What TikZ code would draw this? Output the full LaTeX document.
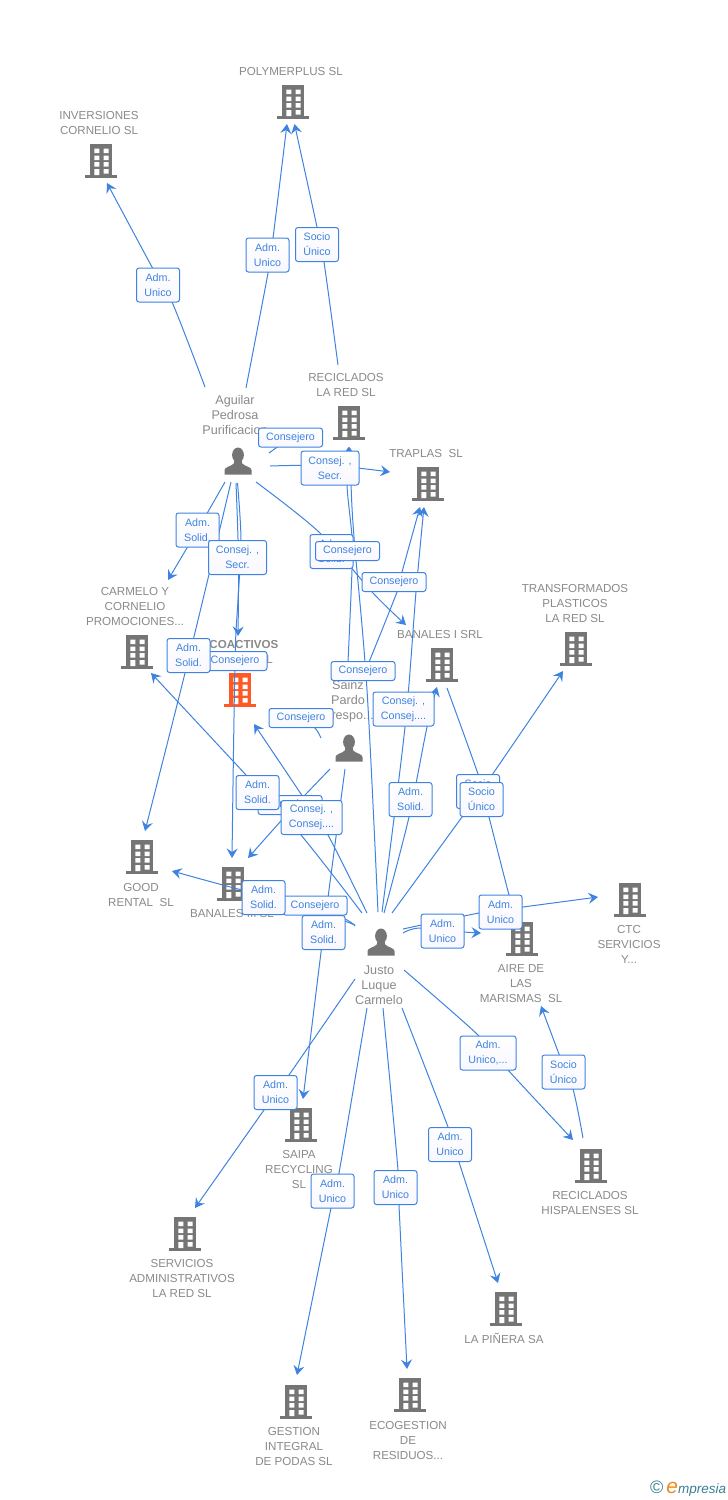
\documentclass[tikz,border=0pt]{standalone}
\usepackage{fontspec}
\setmainfont{Liberation Sans}
\usetikzlibrary{arrows.meta}
\definecolor{linkblue}{HTML}{3F83E0}
\definecolor{txtgray}{HTML}{8A8A8A}
\definecolor{icongray}{HTML}{757575}
\definecolor{iconred}{HTML}{FF5A26}
\definecolor{logoteal}{HTML}{3B7D96}
\definecolor{logoorange}{HTML}{F08A1D}
\pgfdeclarelayer{edges}
\pgfdeclarelayer{labels}
\pgfsetlayers{main,edges,labels}
\tikzset{
  x=1pt,y=-1pt,
  conn/.style={draw=linkblue,line width=1pt,line join=round},
  tip/.style={-{Stealth[length=9.5pt,width=11pt,inset=3.5pt]}},
  lbl/.style={draw=linkblue,line width=1pt,rounded corners=2.5pt,top color=white,bottom color=blue!3,
    text=linkblue,inner sep=0pt,align=center,minimum width=43pt,minimum height=34pt,
    font=\fontsize{10.7}{15}\selectfont},
  lblone/.style={lbl,minimum width=64pt,minimum height=19pt},
  iconbox/.style={inner sep=0pt,minimum width=32pt,minimum height=34pt},
  btext/.style={text=txtgray,align=center,inner sep=0pt,yshift=-0.8pt,font=\fontsize{11.6}{15}\selectfont},
  ptext/.style={text=txtgray,align=center,inner sep=0pt,yshift=-0.8pt,font=\fontsize{12.6}{15}\selectfont},
  pics/bld/.style={code={
    \fill[#1] (-11,-17) rectangle (11,14);
    \fill[#1] (-16,14) rectangle (16,17);
    \fill[white] (-6.7,-12.5) rectangle (-1.7,-8) (2.7,-12.5) rectangle (7.7,-8)
      (-6.7,-5.5) rectangle (-1.7,-1) (2.7,-5.5) rectangle (7.7,-1)
      (-6.7,1) rectangle (-1.7,5.5) (2.7,1) rectangle (7.7,5.5)
      (-6.7,8) rectangle (-1.7,14) (2.7,8) rectangle (7.7,12.5);
  }},
  pics/person/.style={code={
    \fill[icongray] (0,-6) ellipse (5.9 and 7.5);
    \fill[icongray] (-13.5,13.5) -- (-13.5,9) .. controls (-13.5,6) and (-7,5.5) .. (-4.2,2.5)
      -- (-3.5,-1) -- (3.5,-1) -- (4.2,2.5) .. controls (7,5.5) and (13.5,6) .. (13.5,9) -- (13.5,13.5) -- cycle;
  }},
}
\newcommand{\bld}[4][icongray]{\node[iconbox] (#2) at (#3,#4) {}; \pic at (#2.center) {bld=#1};}
\newcommand{\per}[3]{\node[iconbox] (#1) at (#2,#3) {}; \pic at (#1.center) {person};}
\newcommand{\lnk}[2][]{\draw[conn,#1] plot[smooth,tension=0.55] coordinates {#2};}
\begin{document}
\begin{tikzpicture}
\useasboundingbox (0,0) rectangle (728,1500);
\fill[white] (0,0) rectangle (728,1500);

% company nodes
\bld{poly}{293}{102}
\node[btext] (polyT) at (291,71) {POLYMERPLUS SL};
\bld{inv}{101}{161}
\node[btext] (invT) at (99,122.5) {INVERSIONES\\CORNELIO SL};
\bld{recred}{349}{423}
\node[btext] (recredT) at (346,384.5) {RECICLADOS\\LA RED SL};
\bld{traplas}{428}{484}
\node[btext] (traplasT) at (426,453) {TRAPLAS\ \ SL};
\bld{transf}{576}{649}
\node[btext] (transfT) at (575,603) {TRANSFORMADOS\\PLASTICOS\\LA RED SL};
\bld{carmelo}{137}{652}
\node[btext] (carmeloT) at (135,606) {CARMELO Y\\CORNELIO\\PROMOCIONES...};
\bld[iconred]{eco}{240}{690}
\node[btext,font=\fontsize{11.6}{15}\selectfont\bfseries] (ecoT) at (240,644) {ECOACTIVOS};
\node[btext,anchor=east] (ecoU) at (273,659) {SL};
\bld{ban1}{442}{665}
\node[btext] (ban1T) at (440,634) {BANALES I SRL};
\bld{good}{142}{857}
\node[btext] (goodT) at (141,894.5) {GOOD\\RENTAL\ \ SL};
\bld{ban3}{233}{884}
\node[btext] (ban3T) at (232,913) {BANALES III SL};
\bld{aire}{522}{939}
\node[btext] (aireT) at (521,983) {AIRE DE\\LAS\\MARISMAS\ \ SL};
\bld{ctc}{630}{900}
\node[btext] (ctcT) at (629,944) {CTC\\SERVICIOS\\Y...};
\bld{saipa}{301}{1125}
\node[btext] (saipaT) at (299,1169) {SAIPA\\RECYCLING\\SL};
\bld{serv}{185}{1234}
\node[btext] (servT) at (182,1278) {SERVICIOS\\ADMINISTRATIVOS\\LA RED SL};
\bld{rechis}{591}{1166}
\node[btext] (rechisT) at (590,1202.5) {RECICLADOS\\HISPALENSES SL};
\bld{pinera}{506}{1309}
\node[btext] (pineraT) at (504,1338) {LA PIÑERA SA};
\bld{gestion}{296}{1402}
\node[btext] (gestionT) at (294,1446) {GESTION\\INTEGRAL\\DE PODAS SL};
\bld{ecog}{410}{1395}
\node[btext] (ecogT) at (408,1440) {ECOGESTION\\DE\\RESIDUOS...};

% people
\per{agui}{238}{461}
\node[ptext] (aguiT) at (235,414) {Aguilar\\Pedrosa\\Purificacion};
\per{sainz}{349}{748}
\node[ptext] (sainzT) at (348,700) {Sainz\\Pardo\\Crespo...};
\per{justo}{381}{942}
\node[ptext] (justoT) at (379,984) {Justo\\Luque\\Carmelo};

% relation labels
\begin{pgfonlayer}{labels}
\node[lbl] (l01) at (158,285) {Adm.\\Unico};
\node[lbl] (l02) at (267.5,255) {Adm.\\Unico};
\node[lbl] (l03) at (317,244.5) {Socio\\Único};
\node[lblone] (l04) at (290.5,437.5) {Consejero};
\node[lbl,minimum width=58pt] (l05) at (330,468) {Consej. ,\\Secr.};
\node[lbl] (l06) at (197.5,530) {Adm.\\Solid.};
\node[lbl] (l08) at (331.5,551.5) {Adm.\\Solid.};
\node[lblone] (l09) at (347.5,551) {Consejero};
\node[lbl,minimum width=58pt] (l07) at (237.5,557.5) {Consej. ,\\Secr.};
\node[lblone] (l10) at (394,582) {Consejero};
\node[lblone] (l12) at (235,661) {Consejero};
\node[lbl] (l11) at (188.5,655.5) {Adm.\\Solid.};
\node[lblone] (l13) at (363,671) {Consejero};
\node[lbl,minimum width=61pt] (l14) at (403.5,709) {Consej. ,\\Consej....};
\node[lblone] (l15) at (301,718) {Consejero};
\node[lblone] (l17) at (290,805) {Consejero};
\node[lbl] (l16) at (257.5,792.5) {Adm.\\Solid.};
\node[lbl,minimum width=61pt] (l18) at (311.5,817.5) {Consej. ,\\Consej....};
\node[lbl] (l19) at (410.5,799.5) {Adm.\\Solid.};
\node[lbl] (l20) at (478,791.5) {Socio\\Único};
\node[lbl] (l21) at (481.5,799.5) {Socio\\Único};
\node[lblone] (l23) at (315,905.5) {Consejero};
\node[lbl] (l22) at (263.5,897.5) {Adm.\\Solid.};
\node[lbl] (l24) at (323.5,932.5) {Adm.\\Solid.};
\node[lbl] (l25) at (442.5,931) {Adm.\\Unico};
\node[lbl] (l26) at (500.5,912) {Adm.\\Unico};
\node[lbl,minimum width=56pt] (l27) at (488,1053) {Adm.\\Unico,...};
\node[lbl] (l28) at (563.5,1072) {Socio\\Único};
\node[lbl] (l29) at (275.5,1092.5) {Adm.\\Unico};
\node[lbl] (l30) at (332.5,1191) {Adm.\\Unico};
\node[lbl] (l31) at (395.5,1187.5) {Adm.\\Unico};
\node[lbl] (l32) at (450,1144.5) {Adm.\\Unico};
\end{pgfonlayer}

% free ends and bends of the connectors
\foreach \n/\x/\y in {
 a1/205/387, v1a/172/302, v1b/152/267, b1/107/183,
 a2/246/388, v2a/268/273, v2b/273/238, b2/287/124,
 a3/338/365, v3a/324/262, v3b/317/227, b3/294.5/124,
 a4/269/453, a5/270/466, v5/330/465.5, b5/390/472, a6/225/482, b6/168/580,
 a7/231/482, v7/189.5/655, b7/145/831, a8/236/483, v8/238.5/560, b8/238/636,
 a9/237.5/483, v9a/241/540, v9b/238/600, b9/232/858,
 a10/256/482, v10a/320/533, v10b/373/593, b10/406/625,
 a11/348/662, v11a/352/570, v11b/352/537, v11c/347/485, b11/348.5/447,
 a12/378/912, v12a/367/690, v12b/354/537, v12c/351/485, b12/349.5/447,
 a13/365/672, v13a/397/592, v13b/402/572, b13/420/507,
 a14/382/912, v14a/405/727, v14b/416/592, b14/424/507,
 a15/384/913, v15a/409/817, v15b/427/727, b15/437/687,
 a16/345/769, b16/303/1099, a17/330/769, v17/290/811, b17/248/858,
 a18/321/738, v18/315/728, a19/367/913, v19a/328/835, v19b/305/800, b19/254/724,
 a20/362/913, v20a/301/835, v20b/246/775, b20/151/673,
 a21/355/925, v21a/286/899, v21b/242/890, b21/172/871,
 a22/355/926, v22/347/920, a23/392/913, v23a/462/817, v23b/492/775, b23/563/671,
 a24/447/688, v24a/480/780, v24b/489/817, v24c/509/895, b24/514/912,
 a25/403/929, v25a/479/913, v25b/523/907, b25/598/897,
 a26/403/933, v26a/420/928, v26b/464/932, b26/481/933,
 a27/404/970, v27a/478/1035, v27b/508/1070, b27/573/1140,
 a28/583/1138, v28a/573/1089, v28b/559/1054, b28/541/1006,
 a29/355/979, v29a/289/1075, v29b/264/1110, b29/195/1208,
 a30/367/1008, v30a/339/1173, v30b/331/1208, b30/297/1375,
 a31/383/1008, v31a/398/1170, v31b/399/1205, b31/407/1369,
 a32/402/1008, v32a/448/1127, v32b/459/1162, b32/498/1283}
 {\coordinate (\n) at (\x,\y);}

% connectors
\begin{pgfonlayer}{edges}
\lnk[tip]{(a1) (v1a) (v1b) (b1)}
\lnk[tip]{(a2) (v2a) (v2b) (b2)}
\lnk[tip]{(a3) (v3a) (v3b) (b3)}
\lnk{(a4) (l04.center)}
\lnk[tip]{(a5) (v5) (b5)}
\lnk[tip]{(a6) (l06.center) (b6)}
\lnk[tip]{(a7) (v7) (b7)}
\lnk[tip]{(a8) (v8) (b8)}
\lnk[tip]{(a9) (v9a) (v9b) (l12.center) (b9)}
\lnk[tip]{(a10) (v10a) (v10b) (b10)}
\lnk[tip]{(a11) (v11a) (v11b) (v11c) (b11)}
\lnk[tip]{(a12) (v12a) (v12b) (v12c) (b12)}
\lnk[tip]{(a13) (v13a) (v13b) (b13)}
\lnk[tip]{(a14) (v14a) (v14b) (b14)}
\lnk[tip]{(a15) (v15a) (v15b) (b15)}
\lnk[tip]{(a16) (l24.center) (b16)}
\lnk[tip]{(a17) (v17) (b17)}
\lnk{(a18) (v18) (l15.center)}
\lnk[tip]{(a19) (v19a) (v19b) (b19)}
\lnk[tip]{(a20) (v20a) (v20b) (b20)}
\lnk[tip]{(a21) (v21a) (v21b) (b21)}
\lnk{(a22) (v22) (l23.center)}
\lnk[tip]{(a23) (v23a) (v23b) (b23)}
\lnk{(a24) (v24a) (v24b) (v24c) (b24)}
\lnk[tip]{(a25) (v25a) (v25b) (b25)}
\lnk[tip]{(a26) (v26a) (v26b) (b26)}
\lnk[tip]{(a27) (v27a) (v27b) (b27)}
\lnk[tip]{(a28) (v28a) (v28b) (b28)}
\lnk[tip]{(a29) (v29a) (v29b) (b29)}
\lnk[tip]{(a30) (v30a) (v30b) (b30)}
\lnk[tip]{(a31) (v31a) (v31b) (b31)}
\lnk[tip]{(a32) (v32a) (v32b) (b32)}
\end{pgfonlayer}

% logo
\node[inner sep=0pt,anchor=west] (logo) at (650,1489) {\fontsize{18}{15}\selectfont\textcolor{logoteal}{©}\hspace{3pt}\textcolor{logoorange}{\itshape\fontsize{21}{15}\selectfont e}\textcolor{logoteal}{\itshape\fontsize{13.5}{15}\selectfont mpresia}};
\end{tikzpicture}
\end{document}
